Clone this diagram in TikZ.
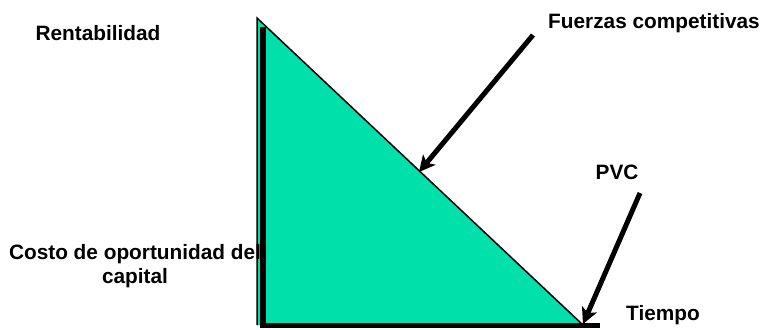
\documentclass[tikz,border=0pt]{standalone}
\usepackage{fontspec}
\setmainfont{Liberation Sans}
\usetikzlibrary{arrows.meta}
\definecolor{fillteal}{RGB}{0,224,170}
\begin{document}
\begin{tikzpicture}[x=0.5pt,y=-0.5pt,
  lbl/.style={font=\bfseries\fontsize{10.4}{12.2}\selectfont, inner sep=0pt, align=center},
  axisline/.style={line width=2.7pt},
  pointer/.style={line width=2.5pt, -{Stealth[length=8pt,width=8pt,inset=2pt]}}]
\useasboundingbox (0,0) rectangle (763,329);
% triangle
\coordinate (apex) at (257,18);
\coordinate (bl) at (257,325);
\coordinate (br) at (583,325);
\fill[fillteal] (apex) -- (bl) -- (br) -- cycle;
\draw[line width=0.75pt] (bl) -- (apex) -- (br);
% axes
\coordinate (ytop) at (263,27);
\coordinate (ybot) at (263,328);
\coordinate (xl) at (260,325.5);
\coordinate (xr) at (600,325.5);
\draw[axisline] (ytop) -- (ybot);
\draw[axisline] (xl) -- (xr);
% labels
\node[lbl] (rent) at (98,33) {Rentabilidad};
\node[lbl] (fuer) at (654,23) {Fuerzas competitivas};
\node[lbl] (pvc) at (617,172) {PVC};
\node[lbl] (tiem) at (663,315) {Tiempo};
\node[lbl] (costo) at (135,266) {Costo de oportunidad del\\capital};
% arrows
\coordinate (fa) at (533,35);
\coordinate (fb) at (419,172);
\coordinate (pa) at (640,193);
\coordinate (pb) at (583,324);
\draw[pointer] (fa) -- (fb);
\draw[pointer] (pa) -- (pb);
\end{tikzpicture}
\end{document}
